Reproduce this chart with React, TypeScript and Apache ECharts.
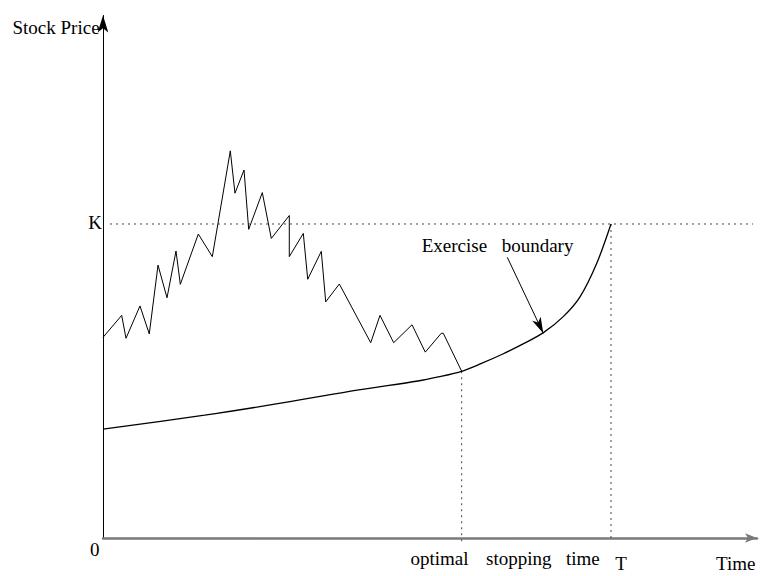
import React, { useEffect, useRef } from 'react';
import * as echarts from 'echarts';

// Units: time with T = 1, price with K = 1
const strikeK = 1;
const maturityT = 1;
const stoppingTime = 0.706;
const belowAxis = -0.013;

const stockPath: [number, number][] = [
  [0, 0.639], [0.0368, 0.709], [0.0453, 0.636], [0.0728, 0.739], [0.0911, 0.65],
  [0.1083, 0.869], [0.126, 0.765], [0.1437, 0.914], [0.1522, 0.808], [0.1876, 0.968],
  [0.2152, 0.896], [0.2506, 1.233], [0.2598, 1.098], [0.2776, 1.172], [0.2868, 0.983],
  [0.3136, 1.1], [0.3313, 0.954], [0.3667, 1.027], [0.3667, 0.896], [0.3943, 0.97],
  [0.403, 0.824], [0.4297, 0.913], [0.4384, 0.752], [0.4652, 0.809], [0.527, 0.622],
  [0.5453, 0.709], [0.5722, 0.622], [0.6083, 0.679], [0.6344, 0.592], [0.6659, 0.652],
  [0.6699, 0.652], [0.706, 0.531],
];

const boundary: [number, number][] = [
  [0, 0.347], [0.2, 0.391], [0.368, 0.434], [0.5, 0.471], [0.62, 0.5],
  [0.66, 0.513], [0.706, 0.531], [0.745, 0.556], [0.787, 0.586], [0.827, 0.618],
  [0.867, 0.654], [0.906, 0.705], [0.939, 0.768], [0.972, 0.875], [1.0, 1.0],
];

const arrowFrom: [number, number] = [0.7958, 0.894];
const arrowTo: [number, number] = [0.8667, 0.652];

const xMax = 1.2874;
const yMax = 1.664;
const kLineStart = 0.0138;
const kLineEnd = 1.2795;

const FONT = "19px 'Liberation Serif', 'Times New Roman', serif";

const labels = [
  { text: 'Stock Price', x: 12.5, y: 27.6, align: 'left' },
  { text: 'K', x: 102, y: 222.6, align: 'right' },
  { text: '0', x: 94.7, y: 549.6, align: 'center' },
  { text: 'optimal', x: 410.5, y: 558.6, align: 'left' },
  { text: 'stopping', x: 486, y: 558.6, align: 'left' },
  { text: 'time', x: 566, y: 558.6, align: 'left' },
  { text: 'T', x: 621, y: 563, align: 'center' },
  { text: 'Time', x: 716, y: 563.6, align: 'left' },
  { text: 'Exercise', x: 421.7, y: 245.9, align: 'left' },
  { text: 'boundary', x: 501.7, y: 245.9, align: 'left' },
];

const dotted = { color: '#444', width: 1, type: [2, 4] as number[] };

export default function App() {
  const ref = useRef<HTMLDivElement>(null);
  useEffect(() => {
    if (!ref.current) return;
    const chart = echarts.init(ref.current, undefined, { renderer: 'svg' });
    chart.setOption({
      animation: false,
      backgroundColor: '#fff',
      grid: { left: 103, right: 8, top: 15.5, bottom: 38 },
      xAxis: {
        type: 'value', min: 0, max: xMax,
        axisLine: { show: true, symbol: ['none', 'arrow'], symbolSize: [7, 12], lineStyle: { color: '#7a7a7a', width: 2.5 } },
        axisTick: { show: false }, axisLabel: { show: false }, splitLine: { show: false },
      },
      yAxis: {
        type: 'value', min: 0, max: yMax,
        axisLine: { show: true, symbol: ['none', 'arrow'], symbolSize: [8, 17], lineStyle: { color: '#000', width: 1 } },
        axisTick: { show: false }, axisLabel: { show: false }, splitLine: { show: false },
      },
      graphic: labels.map((l) => ({
        type: 'text',
        style: { text: l.text, x: l.x, y: l.y, font: FONT, fill: '#000', align: l.align, verticalAlign: 'middle' },
      })),
      series: [
        {
          type: 'line', data: [[kLineStart, strikeK], [kLineEnd, strikeK]], symbol: 'none',
          lineStyle: dotted, silent: true,
        },
        {
          type: 'line', data: [[maturityT, strikeK], [maturityT, belowAxis]], symbol: 'none',
          lineStyle: dotted, silent: true, clip: false,
        },
        {
          type: 'line', data: [[stoppingTime, boundary[6][1]], [stoppingTime, belowAxis]], symbol: 'none',
          lineStyle: dotted, silent: true, clip: false,
        },
        {
          type: 'line', data: stockPath, symbol: 'none',
          lineStyle: { color: '#000', width: 1 }, silent: true,
        },
        {
          type: 'line', data: boundary, symbol: 'none', smooth: 0.3,
          lineStyle: { color: '#000', width: 1.3 }, silent: true,
          markLine: {
            silent: true, animation: false,
            symbol: ['none', 'arrow'], symbolSize: [7, 16],
            lineStyle: { color: '#000', width: 1, type: 'solid' },
            label: { show: false },
            emphasis: { disabled: true },
            data: [[{ coord: arrowFrom }, { coord: arrowTo }]],
          },
        },
      ],
    });
    return () => chart.dispose();
  }, []);
  return <div ref={ref} style={{ position: 'fixed', left: 0, top: 0, width: 765, height: 576 }} />;
}
